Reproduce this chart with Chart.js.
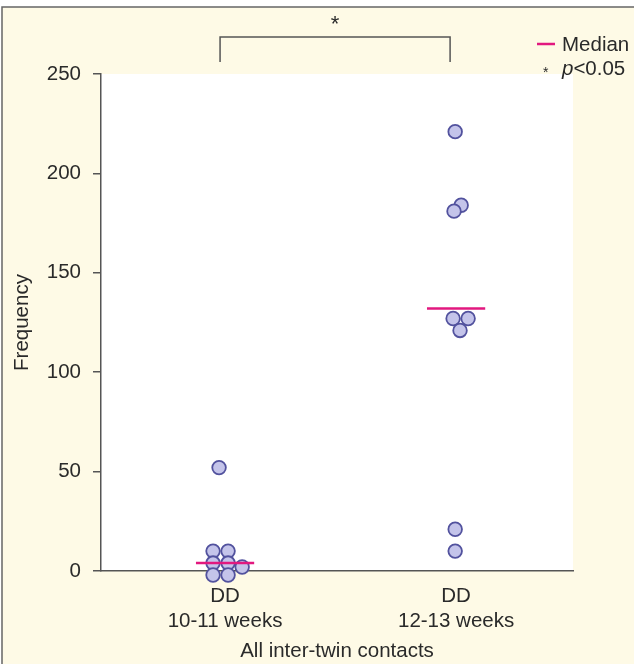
<!DOCTYPE html>
<html>
<head>
<meta charset="utf-8">
<script src="https://cdn.jsdelivr.net/npm/chart.js@4.4.0/dist/chart.umd.min.js"></script>
<style>
  html, body { margin: 0; padding: 0; background: #fff; }
</style>
</head>
<body>
<canvas id="dotChart" width="634" height="664"></canvas>
<script>
// groups on the x axis
const groupLabels = [["DD", "10-11 weeks"], ["DD", "12-13 weeks"]];
const groupPos = [1, 2];

// frequencies, with the small sideways dodge of each dot
const early = [52, 10, 10, 4, 4, 2, -2, -2];
const earlyDodge = [-0.026, -0.052, 0.013, -0.052, 0.013, 0.074, -0.052, 0.013];
const late = [221, 184, 181, 127, 127, 121, 21, 10];
const lateDodge = [-0.004, 0.022, -0.009, -0.013, 0.052, 0.017, -0.004, -0.004];

const medians = [4, 132];
const yTicks = [0, 50, 100, 150, 200, 250];

const FONT = "'Liberation Sans', Arial, sans-serif";
const TEXT = "#2a2a2a";
const AXIS = "#555";
const PINK = "#e2187f";

const dots = [
  ...early.map((v, i) => ({ x: groupPos[0] + earlyDodge[i], y: v })),
  ...late.map((v, i) => ({ x: groupPos[1] + lateDodge[i], y: v })),
];

const medianSets = medians.map((m, i) => ({
  type: "line",
  data: [{ x: groupPos[i] - 0.126, y: m }, { x: groupPos[i] + 0.126, y: m }],
  borderColor: PINK,
  borderWidth: 2.5,
  pointRadius: 0,
  order: 1,
  clip: false,
}));

// page frame, white plot area, bracket and legend
const decor = {
  id: "decor",
  beforeDraw(chart) {
    const { ctx, chartArea: a } = chart;
    ctx.save();
    ctx.fillStyle = "#fff";
    ctx.fillRect(0, 0, chart.width, chart.height);
    ctx.fillStyle = "#fefae6";
    ctx.fillRect(2, 7, chart.width, chart.height);
    ctx.strokeStyle = "#666";
    ctx.lineWidth = 1.5;
    ctx.beginPath();
    ctx.moveTo(2, chart.height);
    ctx.lineTo(2, 7);
    ctx.lineTo(chart.width, 7);
    ctx.stroke();
    ctx.fillStyle = "#fff";
    ctx.fillRect(a.left, a.top, a.right - a.left, a.bottom - a.top);
    ctx.restore();
  },
  afterDraw(chart) {
    const { ctx } = chart;
    const xs = chart.scales.x;
    const x1 = xs.getPixelForValue(groupPos[0]) - 5;
    const x2 = xs.getPixelForValue(groupPos[1]) - 6;
    ctx.save();
    // significance bracket
    ctx.strokeStyle = AXIS;
    ctx.lineWidth = 1.5;
    ctx.beginPath();
    ctx.moveTo(x1, 62);
    ctx.lineTo(x1, 37);
    ctx.lineTo(x2, 37);
    ctx.lineTo(x2, 62);
    ctx.stroke();
    ctx.fillStyle = TEXT;
    ctx.font = "22px " + FONT;
    ctx.textAlign = "center";
    ctx.textBaseline = "middle";
    ctx.fillText("*", (x1 + x2) / 2, 25);

    // legend
    ctx.strokeStyle = PINK;
    ctx.lineWidth = 2.5;
    ctx.beginPath();
    ctx.moveTo(537, 44);
    ctx.lineTo(555, 44);
    ctx.stroke();
    ctx.textAlign = "left";
    ctx.font = "20.5px " + FONT;
    ctx.fillText("Median", 562, 45);
    ctx.font = "14px " + FONT;
    ctx.fillText("*", 543, 73);
    ctx.font = "italic 20.5px " + FONT;
    ctx.fillText("p", 562, 69);
    const pw = ctx.measureText("p").width;
    ctx.font = "20.5px " + FONT;
    ctx.fillText("<0.05", 562 + pw, 69);
    ctx.restore();
  },
};

const config = {
  type: "scatter",
  data: {
    datasets: [
      {
        data: dots,
        backgroundColor: "#c4c4ea",
        borderColor: "#52529e",
        borderWidth: 1.8,
        pointRadius: 6.8,
        order: 2,
        clip: false,
      },
      ...medianSets,
    ],
  },
  options: {
    responsive: false,
    animation: false,
    layout: {
      padding: { top: 74, right: 61, left: 0, bottom: 0 },
    },
    scales: {
      x: {
        type: "linear",
        min: 0.463,
        max: 2.506,
        afterBuildTicks: (s) => {
          s.ticks = groupPos.map((v) => ({ value: v }));
        },
        afterFit: (s) => {
          s.height = 93;
        },
        ticks: {
          autoSkip: false,
          maxRotation: 0,
          padding: 13,
          color: TEXT,
          font: { family: FONT, size: 20.5, lineHeight: 1.22 },
          callback: (v, i) => groupLabels[i],
        },
        grid: { display: false, drawTicks: false },
        border: { display: true, color: AXIS, width: 1.5 },
        title: {
          display: true,
          text: "All inter-twin contacts",
          color: TEXT,
          font: { family: FONT, size: 20.5 },
          padding: { top: 0, bottom: 0 },
        },
      },
      y: {
        min: 0,
        max: 250,
        afterBuildTicks: (s) => {
          s.ticks = yTicks.map((v) => ({ value: v }));
        },
        afterFit: (s) => {
          s.width = 101;
        },
        ticks: {
          padding: 12,
          color: TEXT,
          font: { family: FONT, size: 20.5 },
        },
        grid: {
          drawOnChartArea: false,
          drawTicks: true,
          tickLength: 8,
          color: AXIS,
          lineWidth: 1.5,
        },
        border: { display: true, color: AXIS, width: 1.5 },
        title: {
          display: true,
          text: "Frequency",
          color: TEXT,
          font: { family: FONT, size: 20.5 },
          padding: { top: 10, bottom: 0 },
        },
      },
    },
    plugins: {
      legend: { display: false },
      tooltip: { enabled: false },
    },
  },
  plugins: [decor],
};

const ctx = document.getElementById("dotChart").getContext("2d");
let dotChart = new Chart(ctx, config);
</script>
</body>
</html>
